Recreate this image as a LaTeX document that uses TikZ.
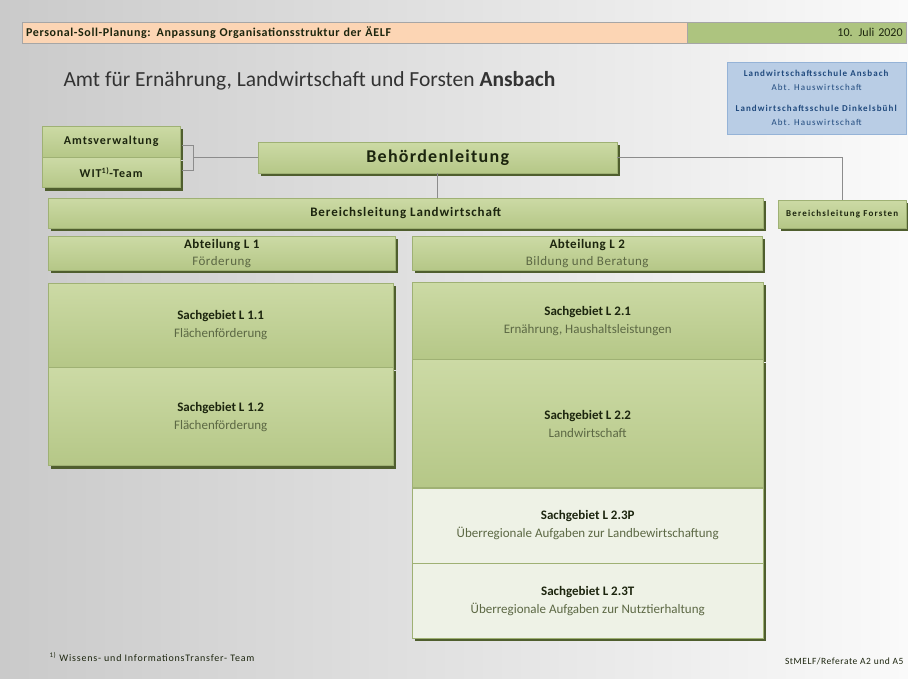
\documentclass[tikz,border=0pt]{standalone}
\usepackage{fontspec}
\setmainfont{Carlito}
\usepackage{tikz}
\usetikzlibrary{positioning,shadows,calc}
\definecolor{BgLeft}{HTML}{CACACA}
\definecolor{BgRight}{HTML}{FAFAFA}
\definecolor{Peach}{HTML}{FCD5B4}
\definecolor{DateGreen}{HTML}{ADC47F}
\definecolor{BarLine}{HTML}{A6A6A6}
\definecolor{GreenTop}{HTML}{CCDAA5}
\definecolor{GreenBot}{HTML}{B5C787}
\definecolor{GreenLine}{HTML}{9FB174}
\definecolor{PaleGreen}{HTML}{EEF2E6}
\definecolor{Olive}{HTML}{4F5E2E}
\definecolor{SubText}{HTML}{5C6844}
\definecolor{DarkText}{HTML}{1C250E}
\definecolor{SkyBlue}{HTML}{B9CDE5}
\definecolor{SkyLine}{HTML}{95B3D7}
\definecolor{NavyText}{HTML}{1F497D}
\definecolor{LineGray}{HTML}{8C8C8C}
\newcommand{\wide}[1]{\addfontfeature{LetterSpace=#1}}
\tikzset{
  greenbox/.style={draw=GreenLine,top color=GreenTop,bottom color=GreenBot,
              align=center,anchor=north west,inner sep=2pt,text=DarkText,
              drop shadow={shadow xshift=3pt,shadow yshift=-3pt,fill=Olive,opacity=1}},
  palebox/.style={greenbox,fill=PaleGreen,top color=PaleGreen,bottom color=PaleGreen},
  bluebox/.style={draw=SkyLine,fill=SkyBlue,align=center,anchor=north west,
              inner sep=2pt,text=NavyText},
  headbar/.style={draw=BarLine,fill=Peach,anchor=north west,inner sep=4pt,
              font=\fontsize{12}{14}\selectfont\bfseries\wide{5},text=DarkText},
  datebar/.style={draw=BarLine,fill=DateGreen,inner sep=4pt,
              font=\fontsize{12}{14}\selectfont,text=DarkText},
  sgfont/.style={font=\fontsize{13}{18}\selectfont},
  abtfont/.style={font=\fontsize{13}{17}\selectfont\wide{4}},
  conn/.style={draw=LineGray,line width=1.3pt},
  note/.style={font=\fontsize{10}{12}\selectfont\wide{8},text=DarkText}
}
\newcommand{\sgtext}[2]{{\bfseries #1}\\{\color{SubText}#2}}

\begin{document}
\begin{tikzpicture}[x=1pt,y=-1pt]
  \shade[left color=BgLeft,right color=BgRight] (0,0) rectangle (908,679);
  \useasboundingbox (0,0) rectangle (908,679);
  % header
  \node[headbar,minimum width=665pt,minimum height=21pt,text width=657pt,align=left] (head) at (22,22)
    {Personal-Soll-Planung: Anpassung Organisationsstruktur der ÄELF};
  \node[datebar,right=0pt of head,minimum width=219pt,minimum height=21pt,text width=211pt,align=right] (date)
    {10. Juli 2020};
  \node[anchor=west,font=\fontsize{21.5}{26}\selectfont,text=black!80] (title) at (60,81)
    {Amt für Ernährung, Landwirtschaft und Forsten \textbf{Ansbach}};
  \node[bluebox,minimum width=179pt,minimum height=72pt,font=\fontsize{9}{14}\selectfont\wide{12}] (schulen) at (727,62)
    {\textbf{Landwirtschaftsschule Ansbach}\\Abt. Hauswirtschaft\\[7pt]
     \textbf{Landwirtschaftsschule Dinkelsbühl}\\Abt. Hauswirtschaft};
  % leitung
  \node[greenbox,minimum width=138pt,minimum height=31pt,font=\fontsize{12}{14}\selectfont\bfseries\wide{8}] (amt) at (42,126) {Amtsverwaltung};
  \node[greenbox,below=0pt of amt,minimum width=138pt,minimum height=30pt,font=\fontsize{12}{14}\selectfont\bfseries\wide{8}] (wit) {WIT\textsuperscript{1)}-Team};
  \node[greenbox,minimum width=359pt,minimum height=31pt,font=\fontsize{18}{21}\selectfont\bfseries\wide{7}] (behoerde) at (258,142) {Behördenleitung};
  \node[greenbox,minimum width=715pt,minimum height=30pt,font=\fontsize{13}{16}\selectfont\bfseries\wide{7}] (blandw) at (48,198) {Bereichsleitung Landwirtschaft};
  \node[greenbox,minimum width=128pt,minimum height=28pt,font=\fontsize{9}{11}\selectfont\bfseries\wide{13}] (blforst) at (778,200) {Bereichsleitung Forsten};
  % abteilungen
  \node[greenbox,abtfont,minimum width=347pt,minimum height=34pt] (abt1) at (48,236) {\sgtext{Abteilung L 1}{Förderung}};
  \node[greenbox,abtfont,minimum width=350pt,minimum height=34pt] (abt2) at (412,236) {\sgtext{Abteilung L 2}{Bildung und Beratung}};
  % sachgebiete
  \node[greenbox,sgfont,minimum width=345pt,minimum height=84pt] (sg11) at (48,283) {\sgtext{Sachgebiet L 1.1}{Flächenförderung}};
  \node[greenbox,sgfont,below=0pt of sg11,minimum width=345pt,minimum height=98pt] (sg12) {\sgtext{Sachgebiet L 1.2}{Flächenförderung}};
  \node[greenbox,sgfont,minimum width=351pt,minimum height=77pt] (sg21) at (412,282) {\sgtext{Sachgebiet L 2.1}{Ernährung, Haushaltsleistungen}};
  \node[greenbox,sgfont,below=0pt of sg21,minimum width=351pt,minimum height=128pt] (sg22) {\sgtext{Sachgebiet L 2.2}{Landwirtschaft}};
  \node[palebox,sgfont,below=0pt of sg22,minimum width=351pt,minimum height=75pt] (sg23p) {\sgtext{Sachgebiet L 2.3P}{Überregionale Aufgaben zur Landbewirtschaftung}};
  \node[palebox,sgfont,below=0pt of sg23p,minimum width=351pt,minimum height=75pt] (sg23t) {\sgtext{Sachgebiet L 2.3T}{Überregionale Aufgaben zur Nutztierhaltung}};
  % verbindungen
  \draw[conn] ([shift={(2,-12)}]wit.north east) -- ++(11,0) -- ++(0,25) -- ++(-11,0);
  \draw[conn] (behoerde.west) -- ++(-65,0);
  \draw[conn] (behoerde.east) -| (blforst.north);
  \draw[conn] (behoerde.south) -- (behoerde.south |- blandw.north);
  % fussnoten
  \node[note,anchor=west] (fussnote) at (46,657) {\textsuperscript{1)} Wissens- und InformationsTransfer- Team};
  \node[note,anchor=east,font=\fontsize{9.5}{11}\selectfont\wide{6}] (quelle) at (907,661) {StMELF/Referate A2 und A5};
\end{tikzpicture}
\end{document}
